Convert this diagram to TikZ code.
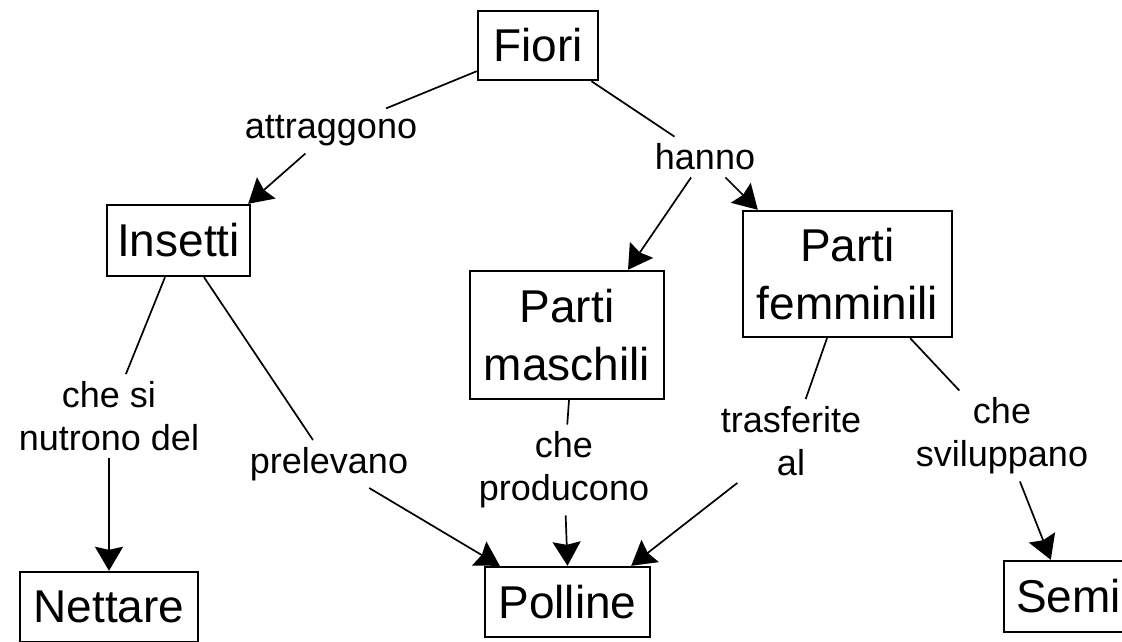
\documentclass[tikz,border=0pt]{standalone}
\usepackage{fontspec}
\setmainfont{Liberation Sans}
\usetikzlibrary{arrows.meta}
\begin{document}
\begin{tikzpicture}[x=1pt,y=-1pt,
  box/.style={draw, line width=2.4pt, inner sep=0pt, align=center,
    font=\fontsize{46}{58}\selectfont},
  lbl/.style={inner sep=7pt, align=center, font=\fontsize{36}{43}\selectfont},
  conn/.style={line width=1.7pt},
  arr/.style={line width=1.7pt, -{Stealth[length=24pt,width=28pt,inset=3pt]}}]
\useasboundingbox (0,0) rectangle (1122,641);
% concept boxes
\node[box, minimum width=120pt, minimum height=69pt] (fiori) at (538,45.5) {Fiori};
\node[box, minimum width=143pt, minimum height=71pt] (ins) at (178.5,240.5) {Insetti};
\node[box, minimum width=194pt, minimum height=128pt] (pm) at (567,335) {Parti\\maschili};
\node[box, minimum width=209pt, minimum height=126pt] (pf) at (847.5,274) {Parti\\femminili};
\node[box, minimum width=178pt, minimum height=70pt] (net) at (109,607) {Nettare};
\node[box, minimum width=165pt, minimum height=70pt] (pol) at (567.5,602) {Polline};
\node[box, minimum width=129pt, minimum height=71pt] (semi) at (1068.5,596.5) {Semi};
% linking labels
\node[lbl] (attr) at (331,131) {attraggono};
\node[lbl] (hanno) at (705,157) {hanno};
\node[lbl] (nut) at (109,416) {che si\\nutrono del};
\node[lbl] (prel) at (329,464) {prelevano};
\node[lbl] (prod) at (564,470) {che\\producono};
\node[lbl] (tras) at (791,441) {trasferite\\al};
\node[lbl] (svil) at (1002,436) {che\\sviluppano};
% connectors
\draw[conn] ([yshift=10pt]fiori.south west) -- (attr);
\draw[arr] (attr) -- ([xshift=-3pt]ins.north east);
\draw[conn] (fiori) -- (hanno);
\draw[arr] (hanno) -- ([xshift=61pt]pm.north);
\draw[arr] (hanno) -- ([xshift=16pt]pf.north west);
\draw[conn] ([xshift=-13.5pt]ins.south) -- (nut);
\draw[arr] (nut) -- (net.north);
\draw[conn] ([xshift=25.5pt]ins.south) -- (prel);
\draw[arr] (prel) -- ([xshift=16pt]pol.north west);
\draw[conn] ([xshift=2pt]pm.south) -- (prod);
\draw[arr] (prod) -- (pol.north);
\draw[conn] ([xshift=-20.5pt]pf.south) -- (tras);
\draw[arr] (tras) -- ([xshift=-20pt]pol.north east);
\draw[conn] ([xshift=-43pt]pf.south east) -- (svil);
\draw[arr] (svil) -- ([xshift=48pt]semi.north west);
\end{tikzpicture}
\end{document}
